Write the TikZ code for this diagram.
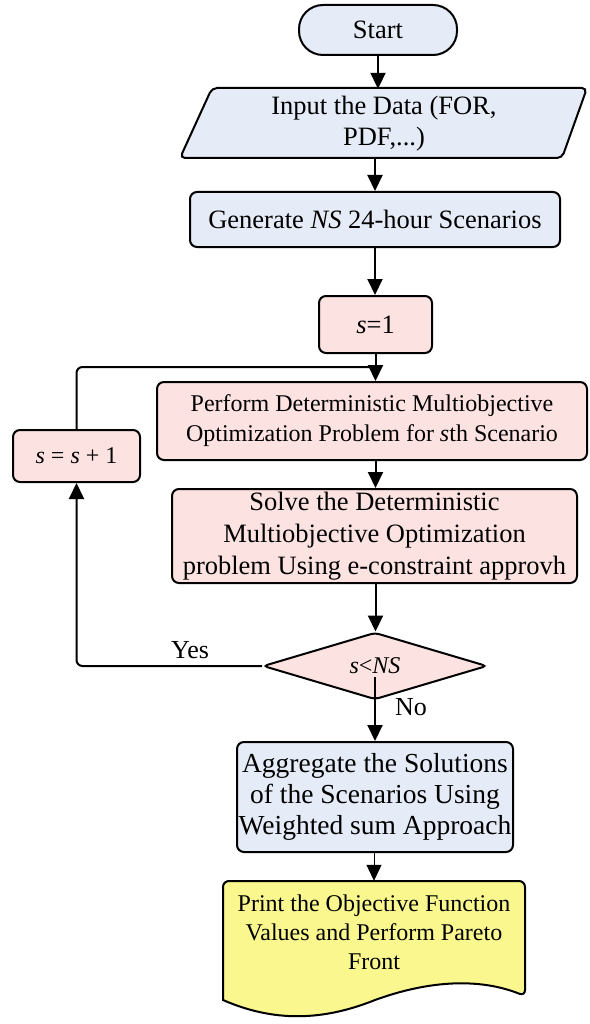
\documentclass[tikz,border=0pt]{standalone}
\usepackage{fontspec}
\setmainfont{Liberation Serif}
\usetikzlibrary{arrows.meta,shapes.geometric}
\definecolor{boxblue}{HTML}{E6ECF7}
\definecolor{boxpink}{HTML}{FDE2E2}
\definecolor{boxyellow}{HTML}{FAF78F}
\begin{document}
\begin{tikzpicture}[x=1pt,y=-1pt,
  box/.style={draw, line width=2pt, rounded corners=7pt, align=center, inner sep=0pt},
  conn/.style={line width=2pt, -{Triangle[width=15pt,length=16pt]}},
  thinconn/.style={line width=1pt, -{Triangle[width=15pt,length=16pt]}},
  plain/.style={line width=2pt},
  big/.style={font=\fontsize{26.5}{31}\selectfont},
  agg/.style={font=\fontsize{27.5}{31}\selectfont},
  solvefont/.style={font=\fontsize{26.5}{32}\selectfont},
  mid/.style={font=\fontsize{24}{29}\selectfont},
  small/.style={font=\fontsize{24}{30}\selectfont},
  lbl/.style={font=\fontsize{26}{30}\selectfont, inner sep=0pt}]
\useasboundingbox (0,0) rectangle (589,1024);

% shapes drawn by coordinates
\draw[plain, fill=boxblue, rounded corners=5pt] (212,88) -- (587,88) -- (562,158) -- (180,158) -- cycle;
\draw[plain, fill=boxyellow] (223,1000) [rounded corners=6pt] -- (223,881) -- (525,881) -- (525,996) [sharp corners]
  .. controls (480,978) and (430,980) .. (375,1000) .. controls (330,1018) and (280,1025) .. (223,1000) -- cycle;

% nodes
\node[box, big, fill=boxblue, rounded corners=24pt, minimum width=158pt, minimum height=50pt] (start) at (378,30) {Start};
\node[big, align=center, inner sep=0pt, minimum width=340pt, minimum height=70pt] (input) at (384,124) {Input the Data (FOR,\\PDF,...)};
\node[box, big, fill=boxblue, minimum width=370pt, minimum height=55pt] (gen) at (375,219.5) {Generate \textit{NS} 24-hour Scenarios};
\node[box, big, fill=boxpink, minimum width=113pt, minimum height=57pt] (s1) at (375.5,324.5) {\textit{s}=1};
\node[box, small, fill=boxpink, minimum width=430pt, minimum height=78pt] (perform) at (372,421) {Perform Deterministic Multiobjective\\Optimization Problem for \textit{s}th Scenario};
\node[box, mid, fill=boxpink, minimum width=127pt, minimum height=52pt] (inc) at (76.5,456) {\textit{s} = \textit{s} + 1};
\node[box, solvefont, fill=boxpink, minimum width=405pt, minimum height=94pt] (solve) at (374.5,536) {Solve the Deterministic\\Multiobjective Optimization\\problem Using e-constraint approvh};
\node[diamond, draw, line width=2pt, fill=boxpink, rounded corners=4pt, inner sep=0pt, minimum width=224pt, minimum height=64pt, font=\fontsize{24}{28}\selectfont] (dec) at (375,666) {\textit{s}<\textit{NS}};
\node[box, agg, fill=boxblue, minimum width=276pt, minimum height=110pt] (agg) at (375,797) {Aggregate the Solutions\\of the Scenarios Using\\Weighted sum Approach};
\node[mid, align=center, inner sep=0pt, minimum width=302pt, minimum height=102pt] (print) at (374,932) {Print the Objective Function\\Values and Perform Pareto\\Front};

\node[lbl] (yes) at (190,650) {Yes};
\node[lbl] (no) at (411,707) {No};

\coordinate (join) at (375.5,367);

% connectors
\draw[conn] (start.south) -- (start.south |- input.north);
\draw[conn] (gen.north |- input.south) -- (gen.north);
\draw[conn] (gen.south) -- (gen.south |- s1.north);
\draw[conn] (s1.south) -- (s1.south |- perform.north);
\draw[plain, rounded corners=6pt] (inc.north) |- (join);
\draw[conn] (s1.south |- perform.south) -- (s1.south |- solve.north);
\draw[conn] (s1.south |- solve.south) -- (s1.south |- dec.north);
\draw[conn] ([yshift=-11pt]dec.center) -- (dec.south |- agg.north);
\draw[conn, rounded corners=6pt] (dec.west) -| (inc.south);
\draw[thinconn] (agg.south -| print.north) -- (print.north);
\end{tikzpicture}
\end{document}
